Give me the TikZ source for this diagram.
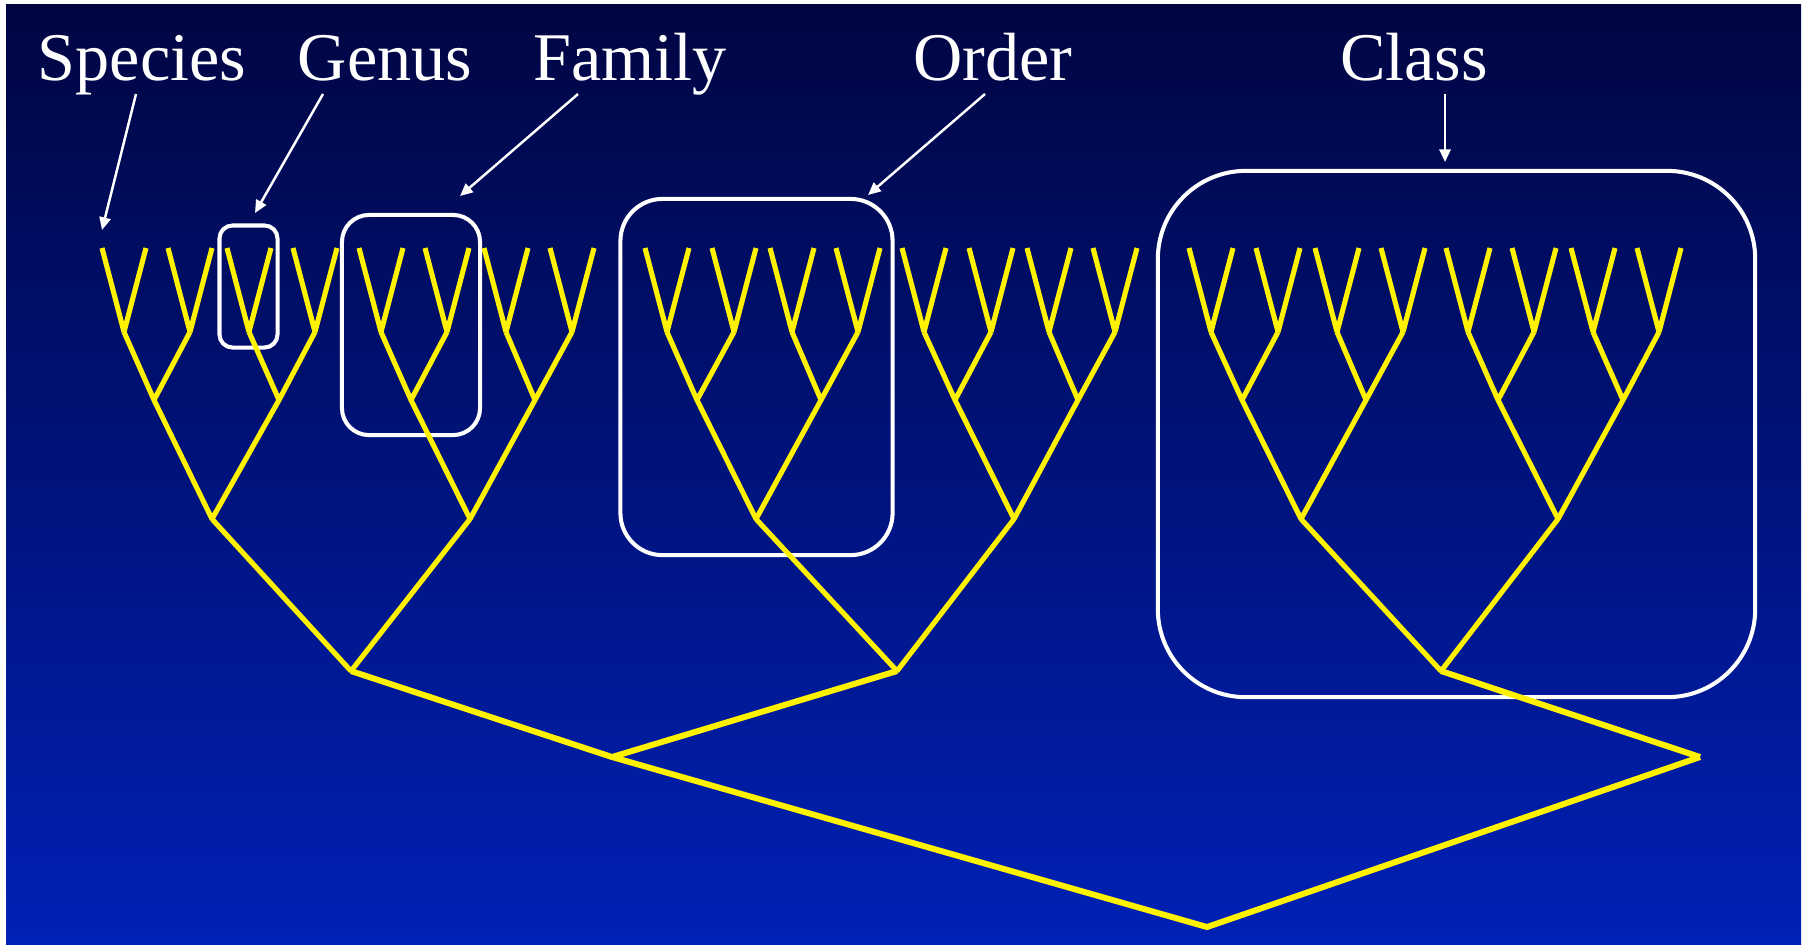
\documentclass[tikz,border=0pt]{standalone}
\usepackage{fontspec}
\setmainfont{Liberation Serif}
\usetikzlibrary{arrows.meta}

\definecolor{navytop}{RGB}{0,5,66}
\definecolor{navybot}{RGB}{0,33,182}

\begin{document}
\begin{tikzpicture}
[
	x=0.01cm, y=-0.01cm,
	branch/.style={yellow,line width=1.45pt,line join=bevel},
	trunk/.style={yellow,line width=1.7pt,line join=bevel},
	taxbox/.style={rectangle,draw=white,line width=1.15pt,inner sep=0pt},
	pointer/.style={white,line width=0.7pt,-{Triangle[length=3.6pt,width=3.2pt]}},
	rank/.style={white,anchor=base,font=\fontsize{19.4}{23}\selectfont}
]

	\useasboundingbox (0,0) rectangle (1810,944);
	\fill[white] (0,0) rectangle (1810,944);
	\shade[top color=navytop,bottom color=navybot] (6,4) rectangle (1801,944);

	% rank names
	\node[rank] (species) at (142,80) {Species};
	\node[rank] (genus) at (385,80) {Genus};
	\node[rank] (family) at (630,80) {Family};
	\node[rank] (order) at (993,80) {Order};
	\node[rank] (class) at (1414,80) {Class};

	% boxes
	\node[taxbox,rounded corners=0.13cm,minimum width=0.58cm,minimum height=1.22cm] (genusbox) at (248.5,286.5) {};
	\node[taxbox,rounded corners=0.27cm,minimum width=1.38cm,minimum height=2.2cm] (familybox) at (411,325) {};
	\node[taxbox,rounded corners=0.42cm,minimum width=2.72cm,minimum height=3.56cm] (orderbox) at (756.5,377) {};
	\node[taxbox,rounded corners=0.88cm,minimum width=5.97cm,minimum height=5.26cm] (classbox) at (1456.5,434) {};

	% pointers
	\coordinate (species-tail) at (136,94);
	\coordinate (species-head) at (102,230);
	\coordinate (genus-tail) at (323,94);
	\coordinate (genus-head) at (255,213);
	\coordinate (family-tail) at (578,94);
	\coordinate (family-head) at (460,196);
	\coordinate (order-tail) at (985,94);
	\coordinate (order-head) at (868,195);
	\coordinate (class-tail) at (1445,94);
	\coordinate (class-head) at (1445,162);

	\draw[pointer] (species-tail) -- (species-head);
	\draw[pointer] (genus-tail) -- (genus-head);
	\draw[pointer] (family-tail) -- (family-head);
	\draw[pointer] (order-tail) -- (order-head);
	\draw[pointer] (class-tail) -- (class-head);

	% species pairs
	\foreach \n/\x in {1/102,2/168,3/227,4/293,5/359,6/425,7/484,8/550,
		9/645,10/712,11/770,12/836,13/902,14/969,15/1027,16/1093,
		17/1189,18/1256,19/1315,20/1381,21/1446,22/1512,23/1571,24/1637}
	{
		\coordinate (v\n) at (\x+22,332);
		\coordinate (sa\n) at (\x,248);
		\coordinate (sb\n) at (\x+44,248);
		\draw[branch] (sa\n) -- (v\n) -- (sb\n);
	}

	% genus joints
	\coordinate (g1) at (154,400);
	\coordinate (g2) at (279,400);
	\coordinate (g3) at (411,400);
	\coordinate (g4) at (535,400);
	\coordinate (g5) at (697,400);
	\coordinate (g6) at (821,400);
	\coordinate (g7) at (955,400);
	\coordinate (g8) at (1078,400);
	\coordinate (g9) at (1242,400);
	\coordinate (g10) at (1366,400);
	\coordinate (g11) at (1498,400);
	\coordinate (g12) at (1623,400);

	\draw[branch] (v1) -- (g1) -- (v2);
	\draw[branch] (v3) -- (g2) -- (v4);
	\draw[branch] (v5) -- (g3) -- (v6);
	\draw[branch] (v7) -- (g4) -- (v8);
	\draw[branch] (v9) -- (g5) -- (v10);
	\draw[branch] (v11) -- (g6) -- (v12);
	\draw[branch] (v13) -- (g7) -- (v14);
	\draw[branch] (v15) -- (g8) -- (v16);
	\draw[branch] (v17) -- (g9) -- (v18);
	\draw[branch] (v19) -- (g10) -- (v20);
	\draw[branch] (v21) -- (g11) -- (v22);
	\draw[branch] (v23) -- (g12) -- (v24);

	% family joints
	\coordinate (f1) at (212,519);
	\coordinate (f2) at (470,519);
	\coordinate (f3) at (756,519);
	\coordinate (f4) at (1014,519);
	\coordinate (f5) at (1301,519);
	\coordinate (f6) at (1558,519);

	\draw[branch] (g1) -- (f1) -- (g2);
	\draw[branch] (g3) -- (f2) -- (g4);
	\draw[branch] (g5) -- (f3) -- (g6);
	\draw[branch] (g7) -- (f4) -- (g8);
	\draw[branch] (g9) -- (f5) -- (g10);
	\draw[branch] (g11) -- (f6) -- (g12);

	% order joints
	\coordinate (o1) at (351,671);
	\coordinate (o2) at (897,671);
	\coordinate (o3) at (1441,671);

	\draw[branch] (f1) -- (o1) -- (f2);
	\draw[branch] (f3) -- (o2) -- (f4);
	\draw[branch] (f5) -- (o3) -- (f6);

	% class joints and root
	\coordinate (c1) at (612,757);
	\coordinate (c2) at (1700,757);
	\coordinate (root) at (1207,927);

	\draw[trunk] (o1) -- (c1) -- (o2);
	\draw[trunk] (o3) -- (c2);
	\draw[trunk] (c1) -- (root) -- (c2);

\end{tikzpicture}
\end{document}
